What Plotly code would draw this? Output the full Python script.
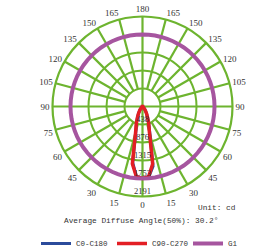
import plotly.graph_objects as go

# ---- data ----
angles = [0, 5, 10, 15, 20, 25, 30, 35, 40, 45, 50, 55, 60, 65, 70, 75, 80, 85, 90,
          95, 100, 105, 110, 115, 120, 125, 130, 135, 140, 145, 150, 155, 160, 165, 170, 175, 180]
c0_half = [1753, 1725, 1480, 700, 450, 295, 200, 125, 72, 42, 26, 16, 10, 7, 5, 4, 3, 2, 2,
           0, 0, 0, 0, 0, 0, 0, 0, 0, 0, 0, 0, 0, 0, 0, 0, 0, 0]
c180_half = [1753, 1705, 1380, 620, 430, 285, 190, 118, 68, 40, 24, 15, 10, 7, 5, 4, 3, 2, 2,
             0, 0, 0, 0, 0, 0, 0, 0, 0, 0, 0, 0, 0, 0, 0, 0, 0, 0]
c90_c270 = [1753, 1715, 1420, 650, 440, 290, 195, 120, 70, 40, 25, 15, 10, 7, 5, 4, 3, 2, 2,
            0, 0, 0, 0, 0, 0, 0, 0, 0, 0, 0, 0, 0, 0, 0, 0, 0, 0]
g1_value = 1753

ring_values = [438.2, 876.4, 1314.6, 1752.8, 2191]
ring_labels = ["438", "876", "1315", "1753", "2191"]
grid_angles = list(range(0, 360, 15))
angle_labels = [str(a if a <= 180 else 360 - a) for a in grid_angles]

unit_text = "Unit: cd"
beam_text = "Average Diffuse Angle(50%): 30.2°"

# ---- colours / fonts ----
GREEN = "#6db42f"
BLUE = "#2b4b9b"
RED = "#e31e24"
PURPLE = "#a6559f"
TXT = "#333333"
SERIF = "Liberation Serif"
MONO = "Liberation Mono"


def full_curve(right, left):
    theta = [-a for a in reversed(angles)] + angles[1:]
    r = list(reversed(left)) + right[1:]
    return theta, r


fig = go.Figure()

# spokes (grid), built from grid angle list and ring values
sp_t, sp_r = [], []
for a in grid_angles:
    inner = 0 if a % 90 == 0 else ring_values[0]
    sp_t += [a, a, None]
    sp_r += [inner, ring_values[-1], None]
fig.add_trace(go.Scatterpolar(theta=sp_t, r=sp_r, mode="lines",
                              line=dict(color=GREEN, width=2.2),
                              showlegend=False, hoverinfo="skip"))

t, r = full_curve(c0_half, c180_half)
fig.add_trace(go.Scatterpolar(theta=t, r=r, mode="lines", name="C0-C180",
                              line=dict(color=BLUE, width=3)))
t, r = full_curve(c90_c270, c90_c270)
fig.add_trace(go.Scatterpolar(theta=t, r=r, mode="lines", name="C90-C270",
                              line=dict(color=RED, width=3.5)))
g_theta = list(range(0, 361, 5))
fig.add_trace(go.Scatterpolar(theta=g_theta, r=[g1_value] * len(g_theta), mode="lines",
                              name="G1", line=dict(color=PURPLE, width=4)))

# radial value labels
fig.add_trace(go.Scatterpolar(theta=[0] * len(ring_values), r=ring_values, mode="text",
                              text=ring_labels, textposition="top center",
                              textfont=dict(family=SERIF, size=8.5, color=TXT),
                              showlegend=False, hoverinfo="skip"))

cx, cy, rad = 142.5, 106.5, 90
W, H = 277, 248
fig.update_layout(
    width=W, height=H,
    margin=dict(l=0, r=0, t=0, b=0, autoexpand=False),
    paper_bgcolor="white",
    plot_bgcolor="white",
    polar=dict(
        domain=dict(x=[(cx - rad) / W, (cx + rad) / W],
                    y=[(H - cy - rad) / H, (H - cy + rad) / H]),
        bgcolor="white",
        angularaxis=dict(rotation=-90, direction="counterclockwise",
                         tickmode="array", tickvals=grid_angles, ticktext=angle_labels,
                         showgrid=False, showline=True, linecolor=GREEN, linewidth=2.2,
                         ticks="", tickfont=dict(family=SERIF, size=9, color=TXT)),
        radialaxis=dict(range=[0, ring_values[-1]], tickmode="array", tickvals=ring_values,
                        showticklabels=False, ticks="", showline=False,
                        showgrid=True, gridcolor=GREEN, gridwidth=2.2),
    ),
    legend=dict(orientation="h", x=36 / W, xanchor="left", y=(H - 229) / H, yanchor="top",
                entrywidth=31, entrywidthmode="pixels",
                font=dict(family=MONO, size=7.5, color=TXT), bgcolor="rgba(0,0,0,0)"),
    annotations=[
        dict(text=unit_text, x=237 / W, y=(H - 208) / H, xref="paper", yref="paper",
             xanchor="right", yanchor="middle", showarrow=False,
             font=dict(family=MONO, size=7.8, color=TXT)),
        dict(text=beam_text, x=141 / W, y=(H - 221) / H, xref="paper", yref="paper",
             xanchor="center", yanchor="middle", showarrow=False,
             font=dict(family=MONO, size=7.8, color=TXT)),
    ],
)

fig.write_html("out.html", config={"displayModeBar": False},
               post_script="document.body.style.margin='0';document.body.style.padding='0';")
